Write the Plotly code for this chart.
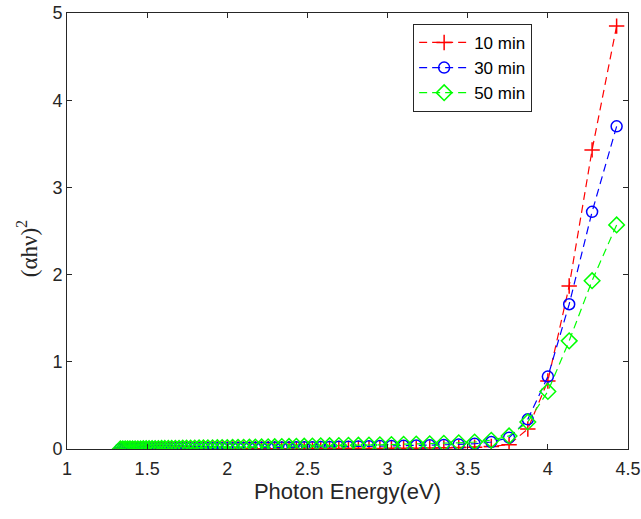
import plotly.graph_objects as go

# Photon energy (eV), from high to low
energy = [4.429, 4.276, 4.133, 4.000, 3.875, 3.758, 3.647, 3.543, 3.444, 3.351,
          3.263, 3.179, 3.100, 3.024, 2.952, 2.884, 2.818, 2.756, 2.696, 2.638,
          2.583, 2.531, 2.480, 2.431, 2.385, 2.340, 2.296, 2.255, 2.214, 2.175,
          2.138, 2.102, 2.067, 2.033, 2.000, 1.968, 1.938, 1.908, 1.879, 1.851,
          1.824, 1.797, 1.771, 1.746, 1.722, 1.699, 1.676, 1.653, 1.632, 1.610,
          1.590, 1.570, 1.550, 1.531, 1.512, 1.494, 1.476, 1.459, 1.442, 1.425,
          1.409, 1.393, 1.378, 1.363, 1.348, 1.333]

y_10min = [4.85, 3.43, 1.87, 0.78, 0.23, 0.05, 0.030, 0.020, 0.016, 0.013,
           0.011, 0.010, 0.009, 0.008, 0.007, 0.007, 0.006, 0.006, 0.005, 0.005,
           0.005, 0.004, 0.004, 0.004, 0.004, 0.003, 0.003, 0.003, 0.003, 0.003,
           0.002, 0.002, 0.002, 0.002, 0.002, 0.002, 0.002, 0.001, 0.001, 0.001,
           0.001, 0.001, 0.001, 0.001, 0.001, 0.001, 0.001, 0.001, 0.000, 0.000,
           0.000, 0.000, 0.000, 0.000, 0.000, 0.000, 0.000, 0.000, 0.000, 0.000,
           0.000, 0.000, 0.000, 0.000, 0.000, 0.000]

y_30min = [3.70, 2.72, 1.66, 0.83, 0.34, 0.13, 0.080, 0.060, 0.052, 0.047,
           0.043, 0.040, 0.037, 0.035, 0.033, 0.031, 0.029, 0.027, 0.025, 0.024,
           0.022, 0.021, 0.020, 0.019, 0.018, 0.017, 0.016, 0.015, 0.014, 0.013,
           0.012, 0.012, 0.011, 0.010, 0.010, 0.009, 0.009, 0.008, 0.008, 0.007,
           0.007, 0.006, 0.006, 0.006, 0.005, 0.005, 0.005, 0.004, 0.004, 0.004,
           0.003, 0.003, 0.003, 0.003, 0.002, 0.002, 0.002, 0.002, 0.002, 0.001,
           0.001, 0.001, 0.001, 0.001, 0.001, 0.001]

y_50min = [2.57, 1.93, 1.24, 0.66, 0.31, 0.15, 0.100, 0.080, 0.071, 0.065,
           0.060, 0.057, 0.054, 0.051, 0.048, 0.046, 0.044, 0.042, 0.040, 0.038,
           0.036, 0.034, 0.032, 0.031, 0.029, 0.028, 0.026, 0.025, 0.024, 0.022,
           0.021, 0.020, 0.019, 0.018, 0.017, 0.016, 0.015, 0.014, 0.013, 0.012,
           0.012, 0.011, 0.010, 0.010, 0.009, 0.008, 0.008, 0.007, 0.007, 0.006,
           0.006, 0.005, 0.005, 0.005, 0.004, 0.004, 0.004, 0.003, 0.003, 0.003,
           0.002, 0.002, 0.002, 0.002, 0.001, 0.001]

series_names = ["10 min", "30 min", "50 min"]
x_ticks = [1, 1.5, 2, 2.5, 3, 3.5, 4, 4.5]
y_ticks = [0, 1, 2, 3, 4, 5]

fig = go.Figure()
styles = [
    ("#ff0000", "cross-thin-open", 11, y_10min),
    ("#0000ff", "circle-open", 11, y_30min),
    ("#00ff00", "diamond-open", 12, y_50min),
]
for name, (color, sym, size, ys) in zip(series_names, styles):
    fig.add_trace(go.Scatter(
        x=energy, y=ys, name=name, mode="lines+markers",
        line=dict(color=color, width=1.2, dash="8px,5px"),
        marker=dict(symbol=sym, size=size, color=color,
                    line=dict(color=color, width=1.5)),
    ))

axis_common = dict(
    showline=True, linecolor="#262626", linewidth=1, mirror="ticks",
    ticks="inside", ticklen=5, tickcolor="#262626", tickwidth=1,
    showgrid=False, zeroline=False, automargin=False,
    tickfont=dict(family="Liberation Sans, Arial", size=18, color="#262626"),
)
fig.update_xaxes(range=[1, 4.5], tickvals=x_ticks,
                 ticktext=[f"{v:g}" for v in x_ticks],
                 ticklabelstandoff=3,
                 title=dict(text="Photon Energy(eV)", standoff=6,
                            font=dict(family="Liberation Sans, Arial", size=22, color="#262626")),
                 **axis_common)
fig.update_yaxes(range=[0, 5], tickvals=y_ticks, **axis_common)

fig.add_annotation(
    text="(αhν)<sup>2</sup>", textangle=-90, showarrow=False,
    xref="paper", yref="paper", x=-0.07, y=0.46,
    xanchor="center", yanchor="middle",
    font=dict(family="Liberation Serif, Times New Roman", size=23, color="#262626"),
)

fig.update_layout(
    width=641, height=519,
    margin=dict(l=67, r=13, t=13, b=70),
    paper_bgcolor="white", plot_bgcolor="white",
    showlegend=True,
    legend=dict(x=0.617, y=0.975, xanchor="left", yanchor="top",
                bgcolor="white", bordercolor="#262626", borderwidth=1,
                font=dict(family="Liberation Sans, Arial", size=17, color="#000000"),
                itemwidth=50, tracegroupgap=0),
)

fig.write_html("out.html")
